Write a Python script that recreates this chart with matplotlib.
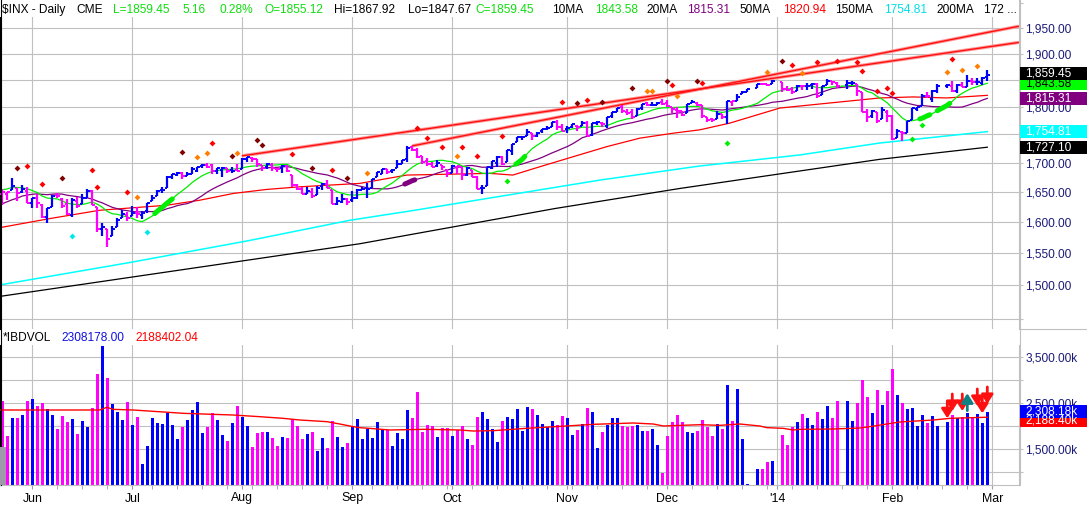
import numpy as np
import pandas as pd
import matplotlib
matplotlib.use('Agg')
import matplotlib.pyplot as plt
from matplotlib.patches import Rectangle
from matplotlib.lines import Line2D
from matplotlib.ticker import FixedLocator, FixedFormatter, NullLocator, NullFormatter
from matplotlib.transforms import IdentityTransform

plt.rcParams['font.family'] = ['Liberation Sans', 'DejaVu Sans']

W, H = 1087, 508

# one slot per trading day, 2013-05-23 .. 2014-02-28
# (the chart keeps an empty slot for Dec 25, Jan 1, Jan 20 and Feb 17)
slot_dates = pd.bdate_range('2013-05-23', '2014-02-28')
slot_dates = slot_dates.drop(pd.to_datetime(['2013-05-27', '2013-07-04', '2013-09-02', '2013-11-28']))

# closes before the first bar (needed for the 10/20 day averages)
prior_closes = [1585.16, 1582.24, 1593.61, 1597.57, 1582.70, 1597.59, 1614.42, 1617.50, 1625.96, 1632.69,
                1626.67, 1633.70, 1633.77, 1650.34, 1658.78, 1650.47, 1667.47, 1666.29, 1669.16, 1655.35]

opens = [
    1646.7, 1646.0, 1652.6, 1656.6, 1649.1, 1652.1,
    1631.7, 1640.7, 1629.0, 1609.0, 1625.3, 1644.7, 1638.6, 1629.9, 1612.2, 1635.5,
    1630.6, 1639.8, 1651.8, 1624.6, 1588.6, 1588.8, 1577.5, 1592.3, 1606.4, 1611.1,
    1609.8, 1614.3, 1611.5, 1618.7, 1634.2, 1642.9, 1652.9, 1657.4, 1675.3, 1679.6,
    1682.7, 1677.9, 1681.1, 1686.2, 1694.4, 1696.6, 1696.1, 1685.2, 1687.3, 1690.3, 1687.9, 1687.8,
    1689.4, 1706.1, 1708.0, 1705.8, 1695.3, 1693.4, 1696.1, 1688.4, 1690.7, 1693.9,
    1679.6, 1661.2, 1655.3, 1646.8, 1650.7, 1645.0, 1659.9, 1664.3, 1652.5, 1630.3, 1633.5, 1638.9,
    1635.9, 1640.7, 1653.3, 1657.4, 1656.9, 1675.1, 1681.0, 1689.2, 1685.0, 1691.7,
    1697.7, 1705.7, 1727.3, 1722.4, 1711.4, 1702.6, 1698.0, 1694.1, 1695.5, 1687.3,
    1682.4, 1691.9, 1692.4, 1678.8, 1687.2, 1676.2, 1656.9, 1660.9, 1691.1, 1699.9,
    1709.2, 1700.5, 1720.2, 1736.7, 1745.2, 1746.5, 1752.3, 1747.5, 1756.0, 1759.4, 1762.9, 1772.3, 1763.2,
    1758.7, 1763.4, 1765.7, 1765.0, 1770.7, 1748.4, 1769.9, 1769.5, 1764.4, 1782.8,
    1790.7, 1798.8, 1790.8, 1789.6, 1783.5, 1797.2, 1806.3, 1802.9, 1803.5, 1808.0,
    1806.6, 1800.1, 1794.0, 1792.8, 1788.4, 1806.6, 1807.6, 1802.8, 1781.7, 1777.0,
    1777.5, 1786.5, 1781.5, 1809.0, 1810.4, 1822.9, 1828.0, None, 1834.9, 1842.9, 1841.5, 1842.6,
    None, 1845.9, 1833.2, 1832.3, 1828.7, 1837.9, 1839.0, 1840.1, 1841.3, 1821.4, 1840.5,
    1847.0, 1844.2, None, 1841.1, 1844.7, 1842.3, 1827.0, 1791.0, 1783.0, 1790.2, 1777.2, 1790.9,
    1782.7, 1743.8, 1753.4, 1753.0, 1776.0, 1796.2, 1800.5, 1820.1, 1814.8, 1828.5,
    None, 1839.0, 1838.2, 1829.2, 1841.1, 1836.8, 1847.7, 1845.8, 1844.9, 1855.12,
]
highs = [
    1654.2, 1649.8, 1674.2, 1656.6, 1661.9, 1658.9,
    1640.4, 1646.5, 1629.3, 1622.6, 1645.6, 1648.7, 1640.1, 1637.7, 1639.3, 1640.8,
    1646.5, 1654.2, 1652.5, 1624.6, 1599.2, 1588.8, 1593.8, 1606.8, 1620.1, 1615.9,
    1626.6, 1624.3, 1618.9, 1632.1, 1644.7, 1652.6, 1657.9, 1676.6, 1680.2, 1684.5,
    1683.7, 1684.8, 1693.1, 1692.1, 1697.6, 1698.8, 1698.4, 1690.9, 1691.9, 1690.9, 1693.2, 1698.4,
    1707.9, 1709.7, 1709.2, 1705.8, 1695.3, 1700.2, 1699.4, 1691.5, 1696.8, 1695.5,
    1679.6, 1663.6, 1659.2, 1658.9, 1656.9, 1659.6, 1664.9, 1669.5, 1652.5, 1641.2, 1646.4, 1640.1,
    1651.3, 1655.7, 1659.2, 1664.8, 1672.4, 1684.1, 1689.1, 1689.9, 1688.7, 1704.9,
    1705.5, 1729.4, 1729.9, 1725.2, 1711.4, 1707.6, 1701.7, 1703.9, 1695.5, 1687.3,
    1696.6, 1693.9, 1692.4, 1691.9, 1687.2, 1676.8, 1662.5, 1692.6, 1703.4, 1711.0,
    1711.6, 1721.8, 1733.4, 1745.3, 1747.8, 1759.3, 1752.3, 1753.9, 1759.8, 1764.8, 1772.1, 1775.2, 1768.5,
    1765.7, 1768.8, 1767.0, 1773.7, 1774.5, 1770.8, 1773.4, 1771.8, 1782.0, 1791.0,
    1798.2, 1802.3, 1795.5, 1795.7, 1797.2, 1804.8, 1808.1, 1808.4, 1808.3, 1813.6,
    1811.5, 1800.1, 1799.8, 1792.8, 1805.1, 1811.5, 1808.5, 1802.9, 1782.0, 1780.0,
    1792.2, 1786.8, 1811.1, 1810.9, 1823.8, 1829.8, 1833.4, None, 1842.8, 1844.9, 1842.5, 1849.4,
    None, 1845.9, 1838.2, 1837.2, 1840.1, 1840.0, 1843.2, 1843.2, 1843.5, 1839.3, 1850.8,
    1847.5, 1846.0, None, 1849.3, 1846.9, 1842.3, 1827.0, 1796.0, 1793.9, 1790.2, 1798.8, 1793.9,
    1784.8, 1758.7, 1755.8, 1774.1, 1798.0, 1799.9, 1823.5, 1826.6, 1830.3, 1841.7,
    None, 1842.9, 1847.5, 1842.8, 1846.1, 1858.7, 1852.9, 1852.7, 1854.5, 1867.92,
]
lows = [
    1627.4, 1636.6, 1652.6, 1635.5, 1648.6, 1630.7,
    1622.7, 1623.6, 1607.1, 1598.2, 1625.3, 1639.3, 1622.9, 1610.9, 1608.1, 1622.9,
    1630.3, 1639.8, 1628.9, 1584.3, 1577.7, 1560.3, 1577.1, 1592.3, 1606.4, 1601.3,
    1609.8, 1606.8, 1604.6, 1614.7, 1634.2, 1642.9, 1647.7, 1657.4, 1672.3, 1677.9,
    1671.8, 1677.0, 1681.1, 1684.1, 1690.2, 1691.4, 1681.0, 1680.1, 1676.0, 1681.9, 1682.4, 1684.9,
    1689.4, 1700.7, 1701.6, 1693.3, 1684.9, 1688.4, 1686.0, 1683.4, 1682.6, 1684.8,
    1658.6, 1652.6, 1646.1, 1646.1, 1639.4, 1645.0, 1653.0, 1656.0, 1629.1, 1627.5, 1630.9, 1627.5,
    1633.4, 1637.4, 1653.1, 1640.6, 1656.9, 1675.1, 1681.0, 1681.0, 1682.2, 1691.7,
    1697.7, 1700.4, 1720.2, 1708.9, 1697.1, 1694.9, 1691.9, 1693.1, 1687.1, 1674.9,
    1682.1, 1680.3, 1670.4, 1677.3, 1674.9, 1655.0, 1646.5, 1660.9, 1688.5, 1692.1,
    1695.5, 1700.5, 1714.1, 1735.7, 1740.6, 1746.5, 1740.5, 1745.5, 1752.5, 1757.7, 1762.9, 1757.2, 1755.7,
    1752.7, 1761.6, 1755.8, 1764.4, 1746.2, 1747.6, 1767.4, 1762.3, 1760.6, 1780.2,
    1790.7, 1788.4, 1784.7, 1777.2, 1783.5, 1794.7, 1800.6, 1800.8, 1802.8, 1803.9,
    1799.8, 1787.9, 1779.1, 1783.4, 1788.4, 1806.6, 1801.4, 1780.1, 1772.3, 1772.5,
    1777.5, 1777.2, 1767.9, 1801.7, 1810.3, 1822.9, 1828.0, None, 1834.9, 1839.8, 1838.8, 1842.4,
    None, 1827.7, 1829.1, 1823.7, 1828.7, 1831.4, 1830.4, 1832.4, 1815.5, 1821.4, 1840.5,
    1840.3, 1835.2, None, 1832.4, 1840.9, 1820.1, 1790.3, 1772.9, 1779.5, 1770.5, 1777.2, 1772.3,
    1739.7, 1743.8, 1737.9, 1753.0, 1776.0, 1791.8, 1800.4, 1815.1, 1809.2, 1825.1,
    None, 1835.0, 1827.0, 1824.9, 1835.6, 1836.8, 1840.2, 1840.7, 1841.1, 1847.67,
]
closes = [
    1650.51, 1649.60, 1660.06, 1648.36, 1654.41, 1630.74,
    1640.42, 1631.38, 1608.90, 1622.56, 1643.38, 1642.81, 1626.13, 1612.52, 1636.36, 1626.73,
    1639.04, 1651.81, 1628.93, 1588.19, 1592.43, 1573.09, 1588.03, 1603.26, 1613.20, 1606.28,
    1614.96, 1614.08, 1615.41, 1631.89, 1640.46, 1652.32, 1652.62, 1675.02, 1680.19, 1682.50,
    1676.26, 1680.91, 1689.37, 1692.09, 1695.53, 1692.39, 1685.94, 1690.25, 1691.65, 1685.33, 1685.96, 1685.73,
    1706.87, 1709.67, 1707.14, 1697.37, 1690.91, 1697.48, 1691.42, 1689.47, 1694.16, 1685.39,
    1661.32, 1655.83, 1646.06, 1652.35, 1642.80, 1656.96, 1663.50, 1656.78, 1630.48, 1634.96, 1638.17, 1632.97,
    1639.77, 1653.08, 1655.08, 1655.17, 1671.71, 1683.99, 1689.13, 1683.42, 1687.99, 1697.60,
    1704.76, 1725.52, 1722.34, 1709.91, 1701.84, 1697.42, 1692.77, 1698.67, 1691.75, 1681.55,
    1695.00, 1693.87, 1678.66, 1690.50, 1676.12, 1655.45, 1656.40, 1692.56, 1703.20, 1710.14,
    1698.06, 1721.54, 1733.15, 1744.50, 1744.66, 1754.67, 1746.38, 1752.07, 1759.77, 1762.11, 1771.95, 1763.31, 1756.54,
    1761.64, 1767.93, 1762.97, 1770.49, 1747.15, 1770.61, 1771.89, 1767.69, 1782.00, 1790.62,
    1798.18, 1791.53, 1787.87, 1781.37, 1795.85, 1804.76, 1802.48, 1802.75, 1807.23, 1805.81,
    1800.90, 1795.15, 1792.81, 1785.03, 1805.09, 1808.37, 1802.62, 1782.22, 1775.50, 1775.32,
    1786.54, 1781.00, 1810.65, 1809.60, 1818.32, 1827.99, 1833.32, None, 1842.02, 1841.40, 1841.07, 1848.36,
    None, 1831.98, 1831.37, 1826.77, 1837.88, 1837.49, 1838.13, 1842.37, 1819.20, 1838.88, 1848.38,
    1845.89, 1838.70, None, 1843.80, 1844.86, 1828.46, 1790.29, 1781.56, 1792.50, 1774.20, 1794.19, 1782.59,
    1741.89, 1755.20, 1751.64, 1773.43, 1797.02, 1799.84, 1819.75, 1819.26, 1829.83, 1838.63,
    None, 1840.76, 1828.75, 1839.78, 1836.25, 1847.61, 1845.12, 1845.16, 1854.29, 1859.45,
]
# IBD volume, thousands
volumes = [
    2540, 1780, 2179, 2179, 2236, 2540,
    2583, 2432, 2489, 2366, 2236, 1933, 2215, 2085, 2150, 1824,
    2106, 1976, 2388, 3133, 3733, 3039, 2475, 2301, 2128, 2518,
    2019, 2193, 1174, 1564, 2171, 2063, 2041, 2280, 2019, 1716,
    1976, 2128, 2345, 2518, 1846, 1976, 2280, 2128, 1803, 1672, 2063, 2432,
    2193, 1998, 1542, 1846, 1868, 1868, 1737, 1564, 1759, 1737,
    2150, 1998, 1716, 1824, 1868, 1456, 1737, 1521, 2106, 1759, 1542, 1629,
    1976, 2150, 1716, 1933, 1737, 2085, 1911, 1911, 1564, 1846,
    1716, 2345, 2171, 2735, 1868, 2019, 1998, 1759, 1954, 1954,
    1781, 1911, 1998, 1716, 1586, 2193, 2301, 2150, 1933, 1651,
    2106, 2193, 2150, 2366, 1889, 2410, 2366, 2236, 2041, 1976, 2106, 2019, 2215,
    2171, 1803, 1911, 2041, 2388, 2301, 1521, 1868, 2019, 2171,
    2171, 1998, 1976, 1998, 2019, 1889, 1889, 1933, 1586, 978,
    1781, 2085, 2236, 2085, 1868, 1846, 1889, 2128, 1976, 1781,
    2041, 1933, 2887, 2106, 2800, 1716, 745, None, 1065, 1065, 1217, 1239,
    None, 1803, 1586, 1976, 2085, 2258, 2171, 2019, 2301, 2150, 2432,
    2171, 2540, None, 2540, 2106, 2497, 2995, 2627, 2280, 2779, 2453, 2757,
    3234, 2670, 2497, 2366, 2388, 1998, 2236, 2063, 2215, 1998,
    None, 2085, 2236, 2171, 2193, 2280, 2193, 2258, 2063, 2308.178,
]
vol_avg_last = 2188.40204

# longer averages (slot, value)
ma50_slot = [-0.5, 9.5, 19.5, 32.9, 39.5, 46.2, 52.9, 59.5, 71.5, 80.9, 97.5, 102.1, 107.5, 114.2,
             120.9, 127.5, 134.2, 139.5, 145.5, 155.5, 165.5, 175.5, 182.1, 188.9, 197]
ma50_val = [1591.0, 1605.8, 1619.5, 1627.8, 1636.2, 1647.5, 1654.3, 1658.7, 1664.5, 1678.7, 1681.6,
            1678.7, 1693.0, 1710.5, 1728.1, 1743.1, 1752.0, 1758.0, 1770.1, 1797.5, 1806.8, 1816.1,
            1818.0, 1816.1, 1820.94]
ma150_slot = [-0.5, 25.5, 49.5, 69.5, 82.5, 119.5, 139.5, 159.5, 175.5, 197]
ma150_val = [1500.7, 1535.4, 1570.4, 1603.0, 1619.5, 1670.1, 1694.3, 1713.5, 1734.5, 1754.81]
ma200_slot = [-0.5, 35.5, 71.5, 110.5, 135.5, 175.5, 197]
ma200_val = [1483.2, 1523.6, 1565.1, 1622.3, 1655.9, 1705.9, 1727.10]

vol_ma_slot = [-0.5, 19.5, 20.9, 22.2, 26.2, 36.2, 46.2, 51.5, 56.2, 59.5, 64.9, 67.5, 70.2, 71.5,
               74.2, 77.5, 84.5, 91.5, 94.2, 98.2, 104.8, 112.8, 118.2, 126.2, 130.2, 132.2, 139.5,
               143.5, 147.5, 151.5, 152.9, 156.2, 158.2, 159.5, 166.2, 171.5, 173.5, 176.9, 179.5,
               186.2, 189.5, 197]
vol_ma_val = [2345, 2345, 2403, 2359, 2345, 2273, 2236, 2200, 2164, 2128, 2092, 2041, 1983, 1962,
              1940, 1911, 1926, 1911, 1889, 1897, 1947, 1998, 2034, 2063, 2041, 1998, 2026,
              2012, 2041, 1998, 1962, 1947, 1911, 1926, 1933, 1954, 1983, 2041, 2085,
              2128, 2164, vol_avg_last]

# trend lines through the highs (slot, price)
trend_lines = [((48, 1712.0), (203.3, 1922.0)), ((82, 1729.4), (203.3, 1954.0))]

# signal dots (slot, price, colour key)
dot_slot = [3, 5, 8, 12, 14, 18, 19, 25, 27, 29, 36, 39, 41, 42, 46, 47, 51, 52, 58, 62, 66, 69, 73,
            83, 85, 88, 91, 92, 95, 100, 101, 112, 115, 117, 120, 126, 129, 130, 133, 134, 135, 139,
            140, 145, 153, 156, 158, 160, 163, 167, 171, 172, 175, 177, 178, 182, 184, 189, 190, 192, 195]
dot_price = [1691.3, 1694.8, 1663.8, 1674.1, 1576.9, 1687.8, 1658.7, 1650.2, 1641.8, 1583.9, 1718.8,
             1710.5, 1717.5, 1734.7, 1712.2, 1717.5, 1740.0, 1731.7, 1715.8, 1691.3, 1687.8, 1674.1,
             1682.7, 1761.6, 1743.6, 1727.6, 1711.7, 1727.6, 1711.7, 1747.2, 1668.9, 1807.9, 1806.0,
             1812.9, 1809.2, 1835.4, 1829.7, 1829.7, 1848.6, 1839.7, 1820.4, 1848.6, 1843.5, 1735.2,
             1864.4, 1886.8, 1877.9, 1862.5, 1883.6, 1886.8, 1883.6, 1867.6, 1828.4, 1834.0, 1824.7,
             1742.4, 1767.0, 1864.4, 1889.4, 1868.2, 1875.9]
dot_kind = 'MRRMCRRROCMOORMOMMRMRMORRRORRRGRMRMMOOMROMRGOMRORRRRRRRGGOROO'

# volume signal arrows
down_arrow_slot = [189, 190, 192, 195, 196, 197]
down_arrow_tip = [2165, 2323, 2323, 2432, 2273, 2475]
up_arrow_slot = [193]
up_arrow_span = [(2330, 2707)]

# ---------------------------------------------------------------
BLUE, PINK = '#0000ff', '#ff00ff'
GRID = '#c0c0c0'
LIME, PURPLE, RED, CYAN = '#00ee00', '#800080', '#ff0000', '#00ffff'
TXT_GREEN = '#10dd10'
AXIS_TXT = '#1a1a78'
FS = 8.6
dot_colors = {'M': '#800000', 'R': '#ff0000', 'O': '#ff8000', 'C': '#00e8e8', 'G': '#00ee00'}


def arr(values):
    return np.array([np.nan if v is None else v for v in values], dtype=float)


o, h, l, c, v = arr(opens), arr(highs), arr(lows), arr(closes), arr(volumes)
n = len(c)
assert n == len(slot_dates)
slots = np.arange(n)
ok = ~np.isnan(c)
tx = slots[ok]

# bar colour: up vs previous close
prev = np.concatenate([[prior_closes[-1]], c[ok][:-1]])
up = c[ok] > prev
bar_col = np.where(up, BLUE, PINK)

# 10 / 20 day simple averages
series = pd.Series(prior_closes + list(c[ok]))
ma10 = series.rolling(10).mean().to_numpy()[len(prior_closes):]
ma20 = series.rolling(20).mean().to_numpy()[len(prior_closes):]

# month / monday ticks
month_slots, month_labels = [], []
for i in range(1, n):
    if slot_dates[i].month != slot_dates[i - 1].month:
        month_slots.append(i)
        month_labels.append("'14" if slot_dates[i].month == 1 else slot_dates[i].strftime('%b'))
month_slots.append(n)
month_labels.append('Mar')
mondays = [i for i in range(n) if slot_dates[i].weekday() == 0] + [n]

fig = plt.figure(figsize=(W / 100, H / 100), dpi=100)
fig.patch.set_facecolor('white')
ax1 = fig.add_axes([0, 1 - 329 / H, 1019 / W, 329 / H])
ax2 = fig.add_axes([0, 1 - 485 / H, 1019 / W, 140 / H])
XL = (-0.46, 203.34)

# ---------------- price panel ----------------
ax1.set_yscale('log')
ax1.set_xlim(*XL)
ax1.set_ylim(1434.7, 2007.0)
price_ticks = [1450, 1500, 1550, 1600, 1650, 1700, 1750, 1800, 1850, 1900, 1950, 2000]
hidden = (1450, 1750, 1850, 2000)   # no label / covered by the value flags
ax1.yaxis.set_major_locator(FixedLocator(price_ticks))
ax1.yaxis.set_major_formatter(FixedFormatter(['' if t in hidden else f'{t:,.2f}' for t in price_ticks]))
ax1.yaxis.set_minor_locator(NullLocator())
ax1.yaxis.set_minor_formatter(NullFormatter())
ax1.yaxis.set_ticks_position('right')
ax1.set_xticks(month_slots)
ax1.tick_params(axis='x', length=0, labelbottom=False)
ax1.tick_params(axis='y', length=2.9, color=GRID, labelcolor=AXIS_TXT, labelsize=FS, pad=1.8)
ax1.grid(True, color=GRID, lw=0.8)
ax1.set_axisbelow(True)

ax1.plot(ma200_slot, ma200_val, color='black', lw=0.9, zorder=2)
ax1.plot(ma150_slot, ma150_val, color=CYAN, lw=1.1, zorder=2)
ax1.plot(ma50_slot, ma50_val, color=RED, lw=0.9, zorder=2)
ax1.plot(tx, ma20, color=PURPLE, lw=0.9, zorder=2)
ax1.plot(tx, ma10, color=LIME, lw=0.9, zorder=2)

for (x0, y0), (x1, y1) in trend_lines:
    ax1.plot([x0, x1], [y0, y1], color='#ff9a9a', lw=2.4, zorder=2.4, solid_capstyle='butt')
    ax1.plot([x0, x1], [y0, y1], color='#ff1010', lw=1.0, zorder=2.5)

# highlighted stretches of the averages
for a, b in [(30.5, 34.0), (102.7, 104.5), (183.5, 185.5), (187.0, 189.5)]:
    xs = np.linspace(a, b, 12)
    ax1.plot(xs, np.interp(xs, tx, ma10), color=LIME, lw=3.6, solid_capstyle='round', zorder=2.6)
xs = np.linspace(80.5, 82.5, 12)
ax1.plot(xs, np.interp(xs, tx, ma20), color=PURPLE, lw=3.6, solid_capstyle='round', zorder=2.6)

# OHLC bars
ax1.vlines(tx, l[ok], h[ok], colors=bar_col, lw=1.6, zorder=3)
ax1.hlines(o[ok], tx - 0.45, tx, colors=bar_col, lw=1.4, zorder=3)
ax1.hlines(c[ok], tx, tx + 0.45, colors=bar_col, lw=1.4, zorder=3)

for k in set(dot_kind):
    idx = [i for i, ch in enumerate(dot_kind) if ch == k]
    ax1.scatter([dot_slot[i] for i in idx], [dot_price[i] for i in idx], marker='D', s=9,
                color=dot_colors[k], lw=0, zorder=4)

for side in ('top', 'bottom'):
    ax1.spines[side].set_visible(False)
ax1.spines['left'].set_color('black')
ax1.spines['right'].set_color(GRID)

# ---------------- volume panel ----------------
ax2.set_xlim(*XL)
ax2.set_ylim(718, 3755)
vol_ticks = [1000, 1500, 2000, 2500, 3000, 3500]
ax2.yaxis.set_major_locator(FixedLocator(vol_ticks))
ax2.yaxis.set_major_formatter(FixedFormatter([f'{t:,.2f}k' if t in (1500, 2500, 3500) else '' for t in vol_ticks]))
ax2.yaxis.set_ticks_position('right')
ax2.tick_params(axis='y', length=2.9, color=GRID, labelcolor=AXIS_TXT, labelsize=FS, pad=1.8)
ax2.set_xticks(month_slots, month_labels)
ax2.set_xticks(mondays, minor=True)
ax2.tick_params(axis='x', which='both', length=2.9, color='#a0a0a0', labelsize=FS + 0.3, pad=2.5,
                labelcolor='black')
ax2.grid(True, which='major', color=GRID, lw=0.8)
ax2.set_axisbelow(True)

ax2.bar(tx, v[ok], width=0.6, color=bar_col, zorder=2)
ax2.plot(vol_ma_slot, vol_ma_val, color=RED, lw=1.0, zorder=3)

for s, tip in zip(down_arrow_slot, down_arrow_tip):
    ax2.annotate('', xy=(s, tip), xytext=(s, tip + 370),
                 arrowprops=dict(arrowstyle='-|>,head_width=0.35,head_length=0.55', color='#ff1010',
                                 lw=2.0, shrinkA=0, shrinkB=0, mutation_scale=10), zorder=4)
for s, (y0, y1) in zip(up_arrow_slot, up_arrow_span):
    ax2.annotate('', xy=(s, y1), xytext=(s, y0),
                 arrowprops=dict(arrowstyle='-|>,head_width=0.35,head_length=0.55', color='#108080',
                                 lw=2.0, shrinkA=0, shrinkB=0, mutation_scale=10), zorder=4)

ax2.spines['top'].set_visible(False)
ax2.spines['left'].set_color('black')
ax2.spines['right'].set_color(GRID)
ax2.spines['bottom'].set_color(GRID)

# ---------------- overlays in pixel space ----------------
ID = IdentityTransform()


def pix(y):
    return H - y


fig.add_artist(Rectangle((0, pix(17)), 1019, 17, transform=ID, fc='white', ec='none', zorder=5))
fig.add_artist(Line2D([0.5, 0.5], [pix(0), pix(485)], transform=ID, color='black', lw=0.8, zorder=6))
fig.add_artist(Line2D([1019.5, 1019.5], [pix(0), pix(485)], transform=ID, color=GRID, lw=0.8, zorder=6))
fig.add_artist(Line2D([1019.5, W], [pix(329), pix(329)], transform=ID, color=GRID, lw=0.8, zorder=6))
fig.add_artist(Rectangle((0, pix(485)), 6, 38, transform=ID, fc='#9e9aaa', ec='none', zorder=6))

last_c, prev_c = c[ok][-1], c[ok][-2]
chg = last_c - prev_c
header = [
    (1.7, '$INX - Daily', 'black'), (76.5, 'CME', 'black'),
    (112.7, f'L={last_c:.2f}', TXT_GREEN), (182.6, f'{chg:.2f}', TXT_GREEN),
    (219.5, f'{chg / prev_c * 100:.2f}%', TXT_GREEN), (264.3, f'O={o[ok][-1]:.2f}', TXT_GREEN),
    (334.3, f'Hi={h[ok][-1]:.2f}', 'black'), (408.3, f'Lo={l[ok][-1]:.2f}', 'black'),
    (475.5, f'C={last_c:.2f}', TXT_GREEN),
    (552.2, '10MA', 'black'), (594.8, f'{ma10[-1]:.2f}', TXT_GREEN),
    (646.5, '20MA', 'black'), (686.6, f'{ma20[-1]:.2f}', PURPLE),
    (740.0, '50MA', 'black'), (782.6, f'{ma50_val[-1]:.2f}', RED),
    (835.0, '150MA', 'black'), (884.5, f'{ma150_val[-1]:.2f}', '#00e0e8'),
    (936.2, '200MA', 'black'), (984.0, '172 ...', 'black'),
]
for x, txt, col in header:
    fig.text(x, pix(10), txt, transform=ID, color=col, fontsize=FS, va='center', ha='left', zorder=7)

fig.text(2.7, pix(338), '*IBDVOL', transform=ID, color='black', fontsize=FS, va='center', zorder=7)
fig.text(61, pix(338), f'{v[ok][-1] * 1000:.2f}', transform=ID, color='#1010e0', fontsize=FS,
         va='center', zorder=7)
fig.text(135, pix(338), f'{vol_avg_last * 1000:.2f}', transform=ID, color=RED, fontsize=FS,
         va='center', zorder=7)


def badge(ax, val, text, fc, tc, dy=0.0):
    yp = ax.transData.transform((0, val))[1] + dy
    fig.add_artist(Rectangle((1019.5, yp - 6.5), W - 1019, 13, transform=ID, fc=fc, ec='none', zorder=8))
    fig.text(1025, yp, text, transform=ID, color=tc, fontsize=FS, va='center', ha='left', zorder=9)


badge(ax1, ma10[-1], f'{ma10[-1]:,.2f}', '#00ff00', 'black')
badge(ax1, c[ok][-1], f'{c[ok][-1]:,.2f}', 'black', 'white', dy=1.5)
badge(ax1, ma20[-1], f'{ma20[-1]:,.2f}', PURPLE, 'white')
badge(ax1, ma150_val[-1], f'{ma150_val[-1]:,.2f}', CYAN, 'white')
badge(ax1, ma200_val[-1], f'{ma200_val[-1]:,.2f}', 'black', 'white')
badge(ax2, vol_avg_last, f'{vol_avg_last:,.2f}k', RED, 'white', dy=-3)
badge(ax2, v[ok][-1], f'{v[ok][-1]:,.2f}k', BLUE, 'white')

fig.savefig('out.png', dpi=100)
